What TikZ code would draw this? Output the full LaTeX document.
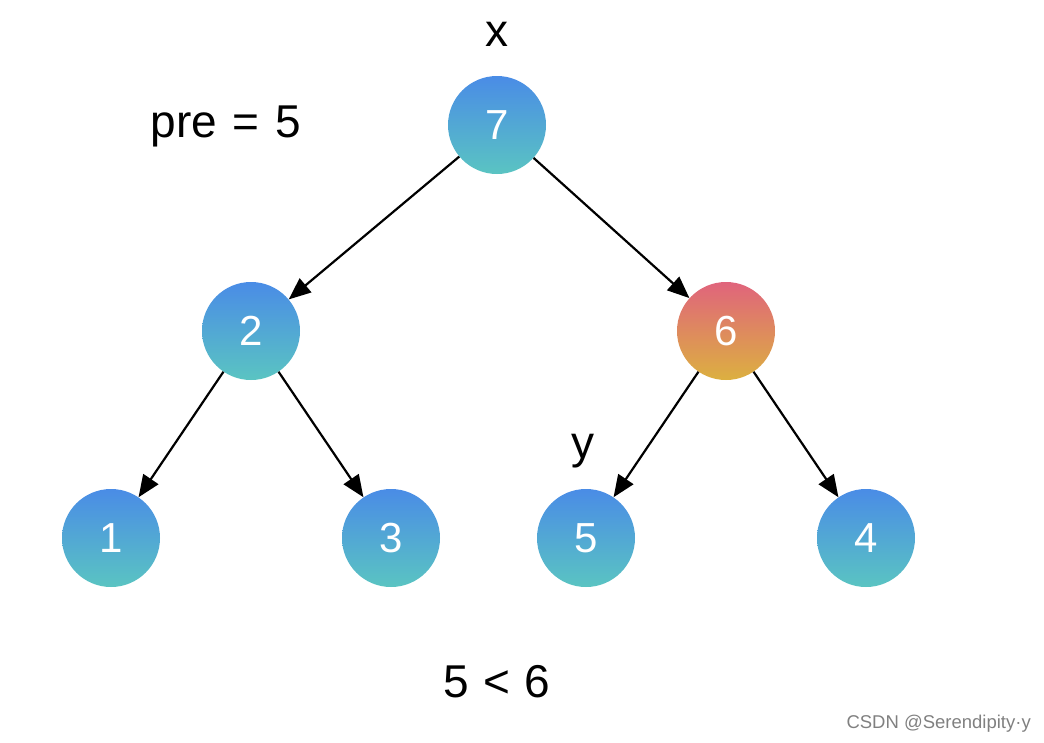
\documentclass[tikz,border=0pt]{standalone}
\usepackage{fontspec}
\setmainfont{Liberation Sans}
\usetikzlibrary{arrows.meta}
\definecolor{btop}{HTML}{4A8CE6}
\definecolor{bbot}{HTML}{5AC4C2}
\definecolor{rtop}{HTML}{E0647C}
\definecolor{rbot}{HTML}{DCB040}
\tikzset{
  tnode/.style={circle, minimum size=98pt, inner sep=0pt, text=white, font=\fontsize{42}{42}\selectfont},
  bluenode/.style={tnode, top color=btop, bottom color=bbot},
  rednode/.style={tnode, top color=rtop, bottom color=rbot},
  edge/.style={line width=2.2pt, -{Triangle[length=22pt,width=18pt]}},
  lbl/.style={anchor=base, inner sep=0pt, font=\fontsize{46}{46}\selectfont},
  wm/.style={anchor=base east, inner sep=0pt, text=black!50, font=\fontsize{18.5}{19}\selectfont}
}
\begin{document}
\begin{tikzpicture}[x=1pt,y=-1pt]
\useasboundingbox (0,0) rectangle (1044,742);
\node[bluenode] (n7) at (497,125) {7};
\node[bluenode] (n2) at (251,331) {2};
\node[rednode]  (n6) at (726,331) {6};
\node[bluenode] (n1) at (111,538) {1};
\node[bluenode] (n3) at (391,538) {3};
\node[bluenode] (n5) at (586,538) {5};
\node[bluenode] (n4) at (866,538) {4};
\draw[edge] (n7) -- (n2);
\draw[edge] (n7) -- (n6);
\draw[edge] (n2) -- (n1);
\draw[edge] (n2) -- (n3);
\draw[edge] (n6) -- (n5);
\draw[edge] (n6) -- (n4);
\node[lbl] (lx) at (497,46) {x};
\node[lbl] (lpre) at (226,137) {pre\hspace{16pt}=\hspace{16pt}5};
\node[lbl] (ly) at (583,458) {y};
\node[lbl] (lcmp) at (497,697) {5\hspace{14pt}<\hspace{14pt}6};
\node[wm] (wmk) at (1031,728) {CSDN @Serendipity·y};
\end{tikzpicture}
\end{document}
